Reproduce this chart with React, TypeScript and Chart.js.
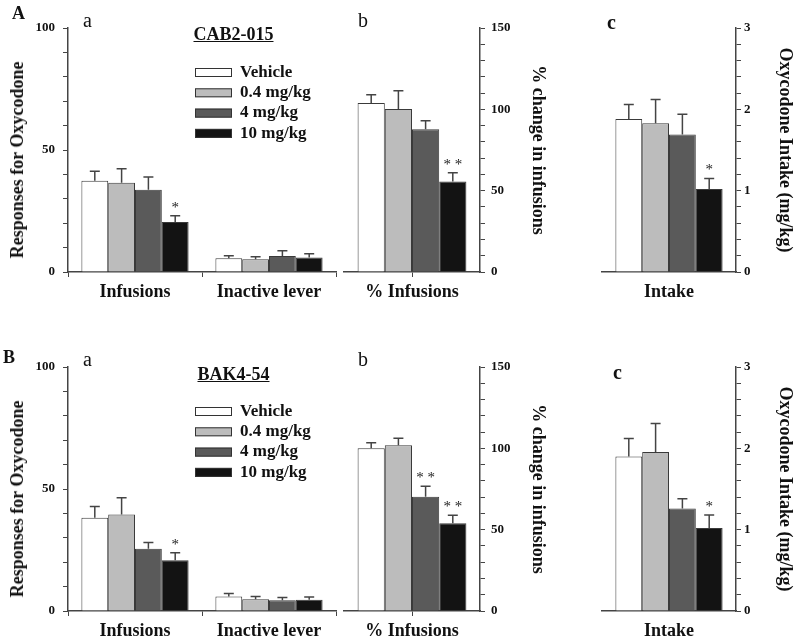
import React, { useEffect, useRef } from 'react';
import { Chart, registerables } from 'chart.js';

Chart.register(...registerables);

const SERIF = "'Liberation Serif', 'Times New Roman', Times, serif";
Chart.defaults.font.family = SERIF;

// ---------- data ----------
const doseLabels = ['Vehicle', '0.4 mg/kg', '4 mg/kg', '10 mg/kg'];
const doseColors = ['#ffffff', '#bcbcbc', '#5a5a5a', '#131313'];

const responseCategories = ['Infusions', 'Inactive lever'];
const percentCategories = ['% Infusions'];
const intakeCategories = ['Intake'];

// A: CAB2-015  (per dose: [Infusions, Inactive lever])
const cabResponses = [[37.4, 5.6], [36.6, 5.2], [33.7, 6.6], [20.5, 5.9]];
const cabResponsesSem = [[3.9, 1.1], [5.7, 1.1], [5.2, 2.1], [2.6, 1.6]];
const cabResponsesSig = [['', ''], ['', ''], ['', ''], ['*', '']];
const cabPercent = [103.9, 100.2, 87.7, 55.7];
const cabPercentSem = [5.1, 11.3, 5.3, 5.3];
const cabPercentSig = ['', '', '', '**'];
const cabIntake = [1.88, 1.83, 1.69, 1.02];
const cabIntakeSem = [0.18, 0.29, 0.25, 0.13];
const cabIntakeSig = ['', '', '', '*'];

// B: BAK4-54
const bakResponses = [[38.2, 5.9], [39.6, 4.8], [25.5, 4.4], [20.8, 4.6]];
const bakResponsesSem = [[4.6, 1.3], [6.8, 1.1], [2.6, 1.1], [3.1, 1.1]];
const bakResponsesSig = [['', ''], ['', ''], ['', ''], ['*', '']];
const bakPercent = [100.0, 101.9, 70.3, 53.9];
const bakPercentSem = [3.5, 4.3, 6.4, 4.9];
const bakPercentSig = ['', '', '**', '**'];
const bakIntake = [1.9, 1.955, 1.26, 1.02];
const bakIntakeSem = [0.22, 0.35, 0.12, 0.16];
const bakIntakeSig = ['', '', '', '*'];

const responseTicks = { max: 100, step: 10, major: 50 };
const percentTicks = { max: 150, step: 10, major: 50 };
const intakeTicks = { max: 3, step: 0.2, major: 1 };

// ---------- plugins ----------
const errorBarPlugin = {
  id: 'errorBars',
  afterDatasetsDraw(chart: any) {
    const { ctx } = chart;
    const yScale = chart.scales.y;
    ctx.save();
    chart.data.datasets.forEach((ds: any, i: number) => {
      const meta = chart.getDatasetMeta(i);
      meta.data.forEach((bar: any, j: number) => {
        const v = ds.data[j];
        const top = yScale.getPixelForValue(v + ds.sem[j]);
        const x = bar.x;
        ctx.strokeStyle = '#444';
        ctx.lineWidth = 1.5;
        ctx.beginPath();
        ctx.moveTo(x, bar.y);
        ctx.lineTo(x, top);
        ctx.moveTo(x - 5, top);
        ctx.lineTo(x + 5, top);
        ctx.stroke();
        const s = ds.sig[j];
        if (s) {
          ctx.fillStyle = '#222';
          ctx.font = `15px ${SERIF}`;
          ctx.textAlign = 'center';
          ctx.textBaseline = 'alphabetic';
          ctx.fillText(s.split('').join(' '), x, top - 4);
        }
      });
    });
    ctx.restore();
  },
};

const doseLegendPlugin = {
  id: 'doseLegend',
  afterDraw(chart: any) {
    const { ctx, chartArea } = chart;
    const x0 = chartArea.left + 127;
    const y0 = chartArea.top + 44.5;
    ctx.save();
    chart.data.datasets.forEach((ds: any, i: number) => {
      const cy = y0 + i * 20.3;
      ctx.fillStyle = ds.backgroundColor;
      ctx.fillRect(x0, cy - 4.5, 37, 9);
      ctx.strokeStyle = '#333';
      ctx.lineWidth = 1;
      ctx.strokeRect(x0 + 0.5, cy - 4, 36, 8);
      ctx.fillStyle = '#111';
      ctx.font = `bold 17px ${SERIF}`;
      ctx.textBaseline = 'middle';
      ctx.textAlign = 'left';
      ctx.fillText(ds.label, x0 + 45, cy);
    });
    ctx.restore();
  },
};

// ---------- config builder ----------
type PanelSpec = {
  categories: string[];
  values: number[][];
  sems: number[][];
  sigs: string[][];
  ticks: { max: number; step: number; major: number };
  position: 'left' | 'right';
  title?: string;
  titlePad?: number;
  tickPad: number;
  axisWidth: number;
  xHeight: number;
  padding: { left: number; top: number; right: number; bottom: number };
  xTickMode: 'between' | 'center' | 'none';
  legend?: boolean;
};

function buildConfig(p: PanelSpec): any {
  const datasets = doseLabels.map((label, i) => ({
    label,
    data: p.values[i],
    sem: p.sems[i],
    sig: p.sigs[i],
    backgroundColor: doseColors[i],
    borderColor: '#3a3a3a',
    borderWidth: 1,
    categoryPercentage: 0.8,
    barPercentage: 1.0,
  }));
  const labelFont = { family: SERIF, weight: 'bold', size: 18 };
  return {
    type: 'bar',
    data: { labels: p.categories, datasets },
    plugins: p.legend ? [errorBarPlugin, doseLegendPlugin] : [errorBarPlugin],
    options: {
      animation: false,
      responsive: false,
      maintainAspectRatio: false,
      devicePixelRatio: 1,
      layout: { padding: p.padding },
      plugins: { legend: { display: false }, tooltip: { enabled: false }, title: { display: false } },
      scales: {
        x: {
          type: 'category',
          offset: true,
          grid: {
            display: p.xTickMode !== 'none',
            offset: p.xTickMode === 'between',
            drawOnChartArea: false,
            drawTicks: true,
            tickLength: 5,
            color: '#444',
            lineWidth: 1,
          },
          border: { display: true, color: '#444', width: 1.5 },
          ticks: { color: '#111', padding: 5, font: labelFont, maxRotation: 0, autoSkip: false },
          afterFit: (s: any) => {
            s.height = p.xHeight;
          },
        },
        y: {
          position: p.position,
          min: 0,
          max: p.ticks.max,
          ticks: {
            stepSize: p.ticks.step,
            autoSkip: false,
            color: '#111',
            padding: p.tickPad,
            font: { family: SERIF, weight: 'bold', size: 13 },
            callback: (v: number) => {
              const r = v / p.ticks.major;
              return Math.abs(r - Math.round(r)) < 1e-6 ? String(Math.round(v)) : '';
            },
          },
          grid: {
            display: true,
            drawOnChartArea: false,
            drawTicks: true,
            tickLength: 5,
            color: '#444',
            lineWidth: 1,
          },
          border: { display: true, color: '#444', width: 1.5 },
          title: p.title
            ? {
                display: true,
                text: p.title,
                color: '#111',
                font: labelFont,
                padding: { top: p.titlePad ?? 0, bottom: 0 },
              }
            : { display: false },
          afterFit: (s: any) => {
            s.width = p.axisWidth;
          },
        },
      },
    },
  };
}

function BarPanel({ spec, left, top, width, height }: { spec: PanelSpec; left: number; top: number; width: number; height: number }) {
  const ref = useRef<HTMLCanvasElement | null>(null);
  useEffect(() => {
    if (!ref.current) return;
    const chart = new Chart(ref.current, buildConfig(spec));
    return () => chart.destroy();
  }, []);
  return (
    <canvas
      ref={ref}
      width={width}
      height={height}
      style={{ position: 'absolute', left, top, width, height }}
    />
  );
}

function Txt({ children, style }: { children: React.ReactNode; style: React.CSSProperties }) {
  return (
    <div
      style={{
        position: 'absolute',
        fontFamily: SERIF,
        lineHeight: 1,
        whiteSpace: 'nowrap',
        color: '#111',
        ...style,
      }}
    >
      {children}
    </div>
  );
}

function Row({ offset, rowHeight, xHeight, resp, respSem, respSig, pct, pctSem, pctSig, intake, intakeSem, intakeSig, drug, letter, letterLeft, cLeft, cTop, drugTop, letterTop }: any) {
  const pad = (l: number, r: number) => ({ left: l, top: 28, right: r, bottom: 0 });
  const specA: PanelSpec = {
    categories: responseCategories,
    values: resp,
    sems: respSem,
    sigs: respSig,
    ticks: responseTicks,
    position: 'left',
    tickPad: 8,
    axisWidth: 68,
    xHeight,
    padding: pad(0, 4),
    xTickMode: 'between',
    legend: true,
  };
  const specB: PanelSpec = {
    categories: percentCategories,
    values: pct.map((v: number) => [v]),
    sems: pctSem.map((v: number) => [v]),
    sigs: pctSig.map((v: string) => [v]),
    ticks: percentTicks,
    position: 'right',
    title: '% change in infusions',
    titlePad: 12,
    tickPad: 6,
    axisWidth: 80,
    xHeight,
    padding: pad(4, 0),
    xTickMode: 'center',
  };
  const specC: PanelSpec = {
    categories: intakeCategories,
    values: intake.map((v: number) => [v]),
    sems: intakeSem.map((v: number) => [v]),
    sigs: intakeSig.map((v: string) => [v]),
    ticks: intakeTicks,
    position: 'right',
    title: 'Oxycodone Intake (mg/kg)',
    titlePad: 0,
    tickPad: 3,
    axisWidth: 59,
    xHeight,
    padding: pad(42, 0),
    xTickMode: 'none',
  };
  return (
    <>
      <BarPanel spec={specA} left={0} top={offset} width={340} height={rowHeight} />
      <BarPanel spec={specB} left={340} top={offset} width={220} height={rowHeight} />
      <BarPanel spec={specC} left={560} top={offset} width={235} height={rowHeight} />
      <Txt style={{ left: letterLeft, top: letterTop, fontSize: 18, fontWeight: 'bold' }}>{letter}</Txt>
      <Txt style={{ left: 83, top: offset + 10.3, fontSize: 20 }}>a</Txt>
      <Txt style={{ left: 358, top: offset + 10.3, fontSize: 20 }}>b</Txt>
      <Txt style={{ left: cLeft, top: cTop, fontSize: 20, fontWeight: 'bold' }}>c</Txt>
      <Txt style={{ left: 233.5, top: drugTop, fontSize: 18, fontWeight: 'bold', textDecoration: 'underline', transform: 'translateX(-50%)' }}>{drug}</Txt>
      <Txt
        style={{
          left: 17,
          top: offset + 159.5,
          fontSize: 18,
          fontWeight: 'bold',
          transform: 'translate(-50%, -50%) rotate(-90deg)',
        }}
      >
        Responses for Oxycodone
      </Txt>
    </>
  );
}

export default function App() {
  return (
    <div
      style={{
        position: 'fixed',
        left: 0,
        top: 0,
        width: 795,
        height: 640,
        overflow: 'hidden',
        background: '#ffffff',
      }}
    >
      <Row
        offset={0}
        rowHeight={300}
        xHeight={28}
        resp={cabResponses}
        respSem={cabResponsesSem}
        respSig={cabResponsesSig}
        pct={cabPercent}
        pctSem={cabPercentSem}
        pctSig={cabPercentSig}
        intake={cabIntake}
        intakeSem={cabIntakeSem}
        intakeSig={cabIntakeSig}
        drug="CAB2-015"
        letter="A"
        letterLeft={12}
        letterTop={4}
        cLeft={607}
        cTop={11.6}
        drugTop={25.2}
      />
      <Row
        offset={339}
        rowHeight={301}
        xHeight={29}
        resp={bakResponses}
        respSem={bakResponsesSem}
        respSig={bakResponsesSig}
        pct={bakPercent}
        pctSem={bakPercentSem}
        pctSig={bakPercentSig}
        intake={bakIntake}
        intakeSem={bakIntakeSem}
        intakeSig={bakIntakeSig}
        drug="BAK4-54"
        letter="B"
        letterLeft={3}
        letterTop={348}
        cLeft={613}
        cTop={361.6}
        drugTop={364.5}
      />
    </div>
  );
}
